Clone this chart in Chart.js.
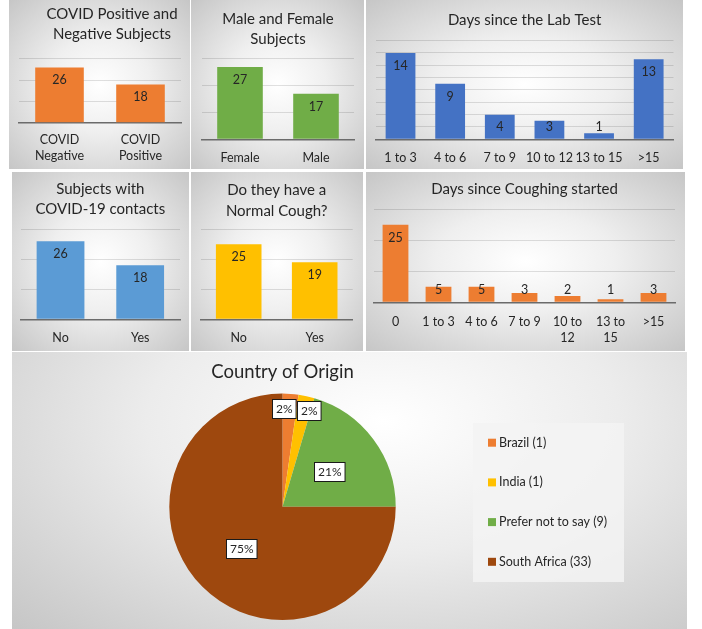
<!DOCTYPE html>
<html>
<head>
<meta charset="utf-8">
<script src="https://cdn.jsdelivr.net/npm/chart.js@4.4.1/dist/chart.umd.min.js"></script>
<style>
body { margin: 0; background: #fff; width: 702px; height: 629px; overflow: hidden; position: relative; }
.panel { position: absolute; background: radial-gradient(ellipse farthest-corner at 50% 50%, #ffffff 0%, #efefef 40%, #c6c6c6 100%); }
.panel canvas { display: block; }
#p7 { background: radial-gradient(ellipse farthest-corner at 55% 25%, #ffffff 0%, #ececec 45%, #c6c6c6 100%); }
</style>
</head>
<body>
<div class="panel" style="left:9px;top:0;width:181px;height:169px"><canvas id="c1" width="181" height="169"></canvas></div>
<div class="panel" style="left:191px;top:0;width:173px;height:169px"><canvas id="c2" width="173" height="169"></canvas></div>
<div class="panel" style="left:366px;top:0;width:317px;height:169px"><canvas id="c3" width="317" height="169"></canvas></div>
<div class="panel" style="left:12px;top:172px;width:177px;height:179px"><canvas id="c4" width="177" height="179"></canvas></div>
<div class="panel" style="left:191px;top:172px;width:172px;height:179px"><canvas id="c5" width="172" height="179"></canvas></div>
<div class="panel" style="left:366px;top:172px;width:319px;height:179px"><canvas id="c6" width="319" height="179"></canvas></div>
<div class="panel" id="p7" style="left:12px;top:352px;width:675px;height:277px"><canvas id="c7" width="675" height="277"></canvas></div>

<script>
// data
const posNegLabels = [['COVID', 'Negative'], ['COVID', 'Positive']];
const posNegValues = [26, 18];

const sexLabels = ['Female', 'Male'];
const sexValues = [27, 17];

const labTestLabels = ['1 to 3', '4 to 6', '7 to 9', '10 to 12', '13 to 15', '>15'];
const labTestValues = [14, 9, 4, 3, 1, 13];

const contactLabels = ['No', 'Yes'];
const contactValues = [26, 18];

const coughLabels = ['No', 'Yes'];
const coughValues = [25, 19];

const coughDaysLabels = ['0', '1 to 3', '4 to 6', '7 to 9', ['10 to', '12'], ['13 to', '15'], '>15'];
const coughDaysValues = [25, 5, 5, 3, 2, 1, 3];

const countryLabels = ['Brazil (1)', 'India (1)', 'Prefer not to say (9)', 'South Africa (33)'];
const countryValues = [1, 1, 9, 33];
const countryPct = ['2%', '2%', '21%', '75%'];

const orange = '#ED7D31';
const green = '#70AD47';
const blue = '#4472C4';
const lightBlue = '#5B9BD5';
const gold = '#FFC000';
const brown = '#9E480E';
const textColor = '#262626';

Chart.defaults.font.family = 'Lato';
Chart.defaults.color = textColor;

// number on top of each bar, Excel "inside end" style
const valueLabels = {
    id: 'valueLabels',
    afterDatasetsDraw(chart) {
        const ctx = chart.ctx;
        const meta = chart.getDatasetMeta(0);
        const data = chart.data.datasets[0].data;
        ctx.save();
        ctx.font = '12.5px Lato';
        ctx.fillStyle = textColor;
        ctx.textAlign = 'center';
        ctx.textBaseline = 'middle';
        meta.data.forEach((bar, i) => {
            const y = Math.min(bar.y + 13, bar.base - 11.5);
            ctx.fillText(String(data[i]), bar.x, y);
        });
        ctx.restore();
    }
};

// moves the title sideways without touching the plot area
const titleNudge = {
    id: 'titleNudge',
    afterLayout(chart, args, opts) {
        const t = chart.titleBlock;
        if (t && opts.dx) {
            t.left += opts.dx;
            t.right += opts.dx;
        }
    }
};

function createBar(id, title, labels, values, color, lay) {
    const ctx = document.getElementById(id).getContext('2d');
    return new Chart(ctx, {
        type: 'bar',
        data: {
            labels: labels,
            datasets: [{
                data: values,
                backgroundColor: color,
                categoryPercentage: 1,
                barPercentage: 0.6
            }]
        },
        options: {
            responsive: false,
            animation: false,
            layout: { padding: { left: lay.left, right: lay.right, top: 0, bottom: 0 } },
            plugins: {
                legend: { display: false },
                tooltip: { enabled: false },
                title: {
                    display: true,
                    text: title,
                    color: textColor,
                    font: { size: 15, weight: 'normal', lineHeight: 1.35 },
                    padding: { top: lay.titleTop, bottom: lay.titleBottom }
                },
                titleNudge: { dx: lay.titleShift || 0 }
            },
            scales: {
                x: {
                    grid: { display: false },
                    border: { display: true, color: '#6b6b6b', width: 1.5 },
                    ticks: { padding: lay.tickPad, color: textColor, font: { size: 12.5, lineHeight: 1.3 }, maxRotation: 0, autoSkip: false },
                    afterFit: s => { s.height = lay.axisH; }
                },
                y: {
                    min: 0,
                    max: lay.max,
                    ticks: { display: false, stepSize: lay.step },
                    grid: { color: 'rgba(0,0,0,0.12)', drawTicks: false },
                    border: { display: false },
                    afterFit: s => { s.width = 0; }
                }
            }
        },
        plugins: [valueLabels, titleNudge]
    });
}

createBar('c1', ['COVID Positive and', 'Negative Subjects'], posNegLabels, posNegValues, orange,
    { left: 10, right: 9, titleShift: 12, titleTop: 4, titleBottom: 14.4, axisH: 46.3, tickPad: 1, max: 30, step: 10 });
createBar('c2', ['Male and Female', 'Subjects'], sexLabels, sexValues, green,
    { left: 11, right: 10, titleTop: 8.8, titleBottom: 9.6, axisH: 29.7, tickPad: 3, max: 30, step: 10 });
createBar('c3', 'Days since the Lab Test', labTestLabels, labTestValues, blue,
    { left: 9.7, right: 9.5, titleTop: 9.8, titleBottom: 10.6, axisH: 29.7, tickPad: 3, max: 16, step: 2 });
createBar('c4', ['Subjects with', 'COVID-19 contacts'], contactLabels, contactValues, lightBlue,
    { left: 8.7, right: 9, titleTop: 6.8, titleBottom: 9.9, axisH: 31.7, tickPad: 3, max: 30, step: 10 });
createBar('c5', ['Do they have a', 'Normal Cough?'], coughLabels, coughValues, gold,
    { left: 9.7, right: 10.3, titleTop: 8.5, titleBottom: 8.2, axisH: 31.7, tickPad: 3, max: 30, step: 10 });
createBar('c6', 'Days since Coughing started', coughDaysLabels, coughDaysValues, orange,
    { left: 8, right: 10, titleTop: 6.8, titleBottom: 10.2, axisH: 48.7, tickPad: 3.5, max: 30, step: 10 });

// boxed percentage labels on the pie slices
const pctBoxes = {
    id: 'pctBoxes',
    afterDatasetsDraw(chart) {
        const ctx = chart.ctx;
        const meta = chart.getDatasetMeta(0);
        const data = chart.data.datasets[0].data;
        const total = data.reduce((a, b) => a + b, 0);
        ctx.save();
        ctx.font = '12px Lato';
        const items = meta.data.map((arc, i) => {
            const mid = (arc.startAngle + arc.endAngle) / 2;
            const small = data[i] / total < 0.1;
            const rr = arc.outerRadius * (small ? 0.87 : 0.52);
            return {
                x: arc.x + Math.cos(mid) * rr,
                y: arc.y + Math.sin(mid) * rr,
                w: ctx.measureText(countryPct[i]).width + 7,
                h: 19,
                text: countryPct[i]
            };
        });
        // push neighbouring boxes apart sideways
        for (let i = 1; i < items.length; i++) {
            const a = items[i - 1], b = items[i];
            if (Math.abs(a.y - b.y) < a.h) {
                const need = (a.w + b.w) / 2 + 2 - Math.abs(b.x - a.x);
                if (need > 0) {
                    const dir = b.x >= a.x ? 1 : -1;
                    a.x -= dir * need / 2;
                    b.x += dir * need / 2;
                }
            }
        }
        items.forEach(it => {
            const x0 = Math.round(it.x - it.w / 2) + 0.5;
            const y0 = Math.round(it.y - it.h / 2) + 0.5;
            ctx.fillStyle = '#ffffff';
            ctx.fillRect(x0, y0, it.w, it.h);
            ctx.strokeStyle = '#1a1a1a';
            ctx.lineWidth = 1;
            ctx.strokeRect(x0, y0, it.w, it.h);
            ctx.fillStyle = textColor;
            ctx.textAlign = 'center';
            ctx.textBaseline = 'middle';
            ctx.fillText(it.text, x0 + it.w / 2, y0 + it.h / 2 + 0.5);
        });
        ctx.restore();
    }
};

// legend block on the right
const sideLegend = {
    id: 'sideLegend',
    afterDraw(chart, args, opts) {
        const ctx = chart.ctx;
        const colors = chart.data.datasets[0].backgroundColor;
        ctx.save();
        ctx.fillStyle = 'rgba(243,243,243,0.85)';
        ctx.fillRect(opts.x, opts.y, opts.w, opts.h);
        ctx.font = '12.5px Lato';
        ctx.textAlign = 'left';
        ctx.textBaseline = 'middle';
        chart.data.labels.forEach((lab, i) => {
            const cy = opts.y + opts.first + i * opts.gap;
            ctx.fillStyle = colors[i];
            ctx.fillRect(opts.x + 15, cy - 4, 8, 8);
            ctx.fillStyle = textColor;
            ctx.fillText(lab, opts.x + 26, cy);
        });
        ctx.restore();
    }
};

new Chart(document.getElementById('c7').getContext('2d'), {
    type: 'pie',
    data: {
        labels: countryLabels,
        datasets: [{
            data: countryValues,
            backgroundColor: [orange, gold, green, brown],
            borderWidth: 0,
            hoverOffset: 0
        }]
    },
    options: {
        responsive: false,
        animation: false,
        layout: { padding: { left: 157, right: 291, top: 0, bottom: 9 } },
        plugins: {
            legend: { display: false },
            tooltip: { enabled: false },
            title: {
                display: true,
                text: 'Country of Origin',
                color: textColor,
                font: { size: 18.5, weight: 'normal', lineHeight: 1.2 },
                padding: { top: 9, bottom: 10.4 }
            },
            sideLegend: { x: 461, y: 71, w: 151, h: 159, first: 19.7, gap: 39.7 }
        }
    },
    plugins: [pctBoxes, sideLegend]
});
</script>
</body>
</html>
